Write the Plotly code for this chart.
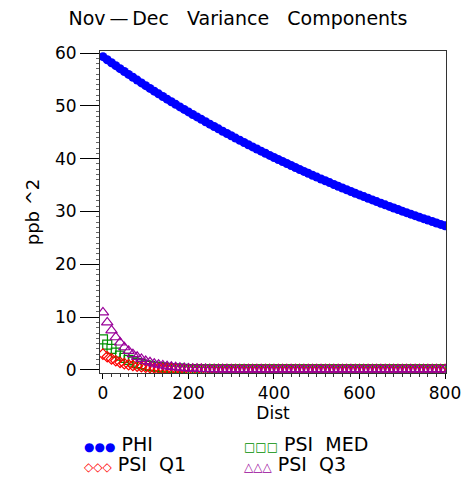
import plotly.graph_objects as go

dist = list(range(0, 801, 10))

phi = [59.30, 58.73, 58.16, 57.60, 57.04, 56.49, 55.95, 55.41, 54.87, 54.34,
       53.82, 53.30, 52.78, 52.27, 51.77, 51.27, 50.78, 50.29, 49.80, 49.32,
       48.85, 48.37, 47.91, 47.44, 46.99, 46.53, 46.08, 45.64, 45.20, 44.76,
       44.33, 43.90, 43.48, 43.06, 42.64, 42.23, 41.82, 41.42, 41.02, 40.62,
       40.23, 39.84, 39.46, 39.08, 38.70, 38.33, 37.96, 37.59, 37.23, 36.87,
       36.51, 36.16, 35.81, 35.47, 35.12, 34.78, 34.45, 34.12, 33.79, 33.46,
       33.14, 32.82, 32.50, 32.19, 31.88, 31.57, 31.26, 30.96, 30.66, 30.37,
       30.07, 29.78, 29.50, 29.21, 28.93, 28.65, 28.37, 28.10, 27.83, 27.56,
       27.30]

psi_med = [5.8, 4.8, 4.0, 3.3, 2.7, 2.3, 1.9, 1.6, 1.3, 1.1,
           0.9, 0.76, 0.64, 0.54, 0.46, 0.39, 0.33, 0.28, 0.24, 0.21,
           0.18, 0.16, 0.15, 0.14, 0.13, 0.12, 0.12, 0.11, 0.11, 0.11,
           0.1, 0.1, 0.1, 0.1, 0.1, 0.1, 0.1, 0.1, 0.1, 0.1,
           0.1, 0.1, 0.1, 0.1, 0.1, 0.1, 0.1, 0.1, 0.1, 0.1,
           0.1, 0.1, 0.1, 0.1, 0.1, 0.1, 0.1, 0.1, 0.1, 0.1,
           0.1, 0.1, 0.1, 0.1, 0.1, 0.1, 0.1, 0.1, 0.1, 0.1,
           0.1, 0.1, 0.1, 0.1, 0.1, 0.1, 0.1, 0.1, 0.1, 0.1,
           0.1]

psi_q1 = [3.0, 2.5, 2.1, 1.75, 1.45, 1.2, 1.0, 0.85, 0.72, 0.61,
          0.52, 0.44, 0.38, 0.32, 0.28, 0.24, 0.21, 0.18, 0.16, 0.14,
          0.13, 0.12, 0.11, 0.11, 0.1, 0.1, 0.1, 0.1, 0.1, 0.1,
          0.1, 0.1, 0.1, 0.1, 0.1, 0.1, 0.1, 0.1, 0.1, 0.1,
          0.1, 0.1, 0.1, 0.1, 0.1, 0.1, 0.1, 0.1, 0.1, 0.1,
          0.1, 0.1, 0.1, 0.1, 0.1, 0.1, 0.1, 0.1, 0.1, 0.1,
          0.1, 0.1, 0.1, 0.1, 0.1, 0.1, 0.1, 0.1, 0.1, 0.1,
          0.1, 0.1, 0.1, 0.1, 0.1, 0.1, 0.1, 0.1, 0.1, 0.1,
          0.1]

psi_q3 = [10.9, 9.0, 7.5, 6.2, 5.2, 4.3, 3.6, 3.0, 2.5, 2.1,
          1.7, 1.45, 1.2, 1.0, 0.85, 0.7, 0.6, 0.5, 0.42, 0.36,
          0.3, 0.26, 0.22, 0.19, 0.17, 0.15, 0.14, 0.13, 0.12, 0.12,
          0.11, 0.1, 0.1, 0.1, 0.1, 0.1, 0.1, 0.1, 0.1, 0.1,
          0.1, 0.1, 0.1, 0.1, 0.1, 0.1, 0.1, 0.1, 0.1, 0.1,
          0.1, 0.1, 0.1, 0.1, 0.1, 0.1, 0.1, 0.1, 0.1, 0.1,
          0.1, 0.1, 0.1, 0.1, 0.1, 0.1, 0.1, 0.1, 0.1, 0.1,
          0.1, 0.1, 0.1, 0.1, 0.1, 0.1, 0.1, 0.1, 0.1, 0.1,
          0.1]

x_ticks = [0, 200, 400, 600, 800]
y_ticks = [0, 10, 20, 30, 40, 50, 60]

BLUE = "#0000FF"
RED = "#FF0000"
GREEN = "#009000"
PURPLE = "#990099"
FONT = "DejaVu Sans, Verdana, sans-serif"

# page has an 8px body margin: figure is offset by 8px in x and y
W, H = 465, 472
ML, MR, MT, MB = 92, 20, 43, 107
PW = W - ML - MR
PH = H - MT - MB

fig = go.Figure()
fig.add_trace(go.Scatter(x=dist, y=phi, mode="markers", name="PHI",
                         marker=dict(symbol="circle", size=9, color=BLUE)))
fig.add_trace(go.Scatter(x=dist, y=psi_med, mode="markers", name="PSI  MED",
                         marker=dict(symbol="square-open", size=9, color=GREEN,
                                     line=dict(width=1.2, color=GREEN))))
fig.add_trace(go.Scatter(x=dist, y=psi_q1, mode="markers", name="PSI  Q1",
                         marker=dict(symbol="diamond-open", size=8, color=RED,
                                     line=dict(width=1.2, color=RED))))
fig.add_trace(go.Scatter(x=dist, y=psi_q3, mode="markers", name="PSI  Q3",
                         marker=dict(symbol="triangle-up-open", size=10, color=PURPLE,
                                     line=dict(width=1.2, color=PURPLE))))

fig.update_layout(
    width=W, height=H,
    margin=dict(l=ML, r=MR, t=MT, b=MB),
    paper_bgcolor="white", plot_bgcolor="white",
    showlegend=False,
    font=dict(family=FONT, size=17, color="black"),
    title=dict(text="Nov\u2009\u2014\u2009Dec\u00a0\u00a0 Variance\u00a0\u00a0 Components",
               x=(238 - 8) / W, xref="container", xanchor="center",
               y=1 - 10 / H, yref="container", yanchor="middle",
               font=dict(family=FONT, size=19, color="black")),
)

fig.update_xaxes(
    range=[-6.9, 802.3], tickvals=x_ticks, ticks="outside", ticklen=5,
    tickcolor="black", showgrid=False, zeroline=False,
    showline=True, linecolor="#333", linewidth=1, mirror=True,
    minor=dict(dtick=20, ticks="outside", ticklen=3, tickcolor="#333"),
    title=dict(text="Dist", standoff=2, font=dict(family=FONT, size=17)),
    tickfont=dict(family=FONT, size=17),
)
fig.update_yaxes(
    range=[-0.57, 60.38], tickvals=y_ticks, ticks="outside", ticklen=19,
    tickcolor="black", showgrid=False, zeroline=False,
    showline=True, linecolor="#333", linewidth=1, mirror=True,
    minor=dict(dtick=1, ticks="outside", ticklen=3, tickcolor="#666"),
    title=dict(text="ppb\u00a0^2", standoff=10, font=dict(family=FONT, size=18)),
    tickfont=dict(family=FONT, size=17),
)

# Legend drawn as text annotations (three symbol glyphs + label); page pixel positions
legend_items = [
    ("\u25cf\u25cf\u25cf", BLUE, "PHI", 82, 444, 12),
    ("\u25a1\u25a1\u25a1", GREEN, "PSI\u00a0 MED", 245, 444, 12),
    ("\u25c7\u25c7\u25c7", RED, "PSI\u00a0 Q1", 82, 464, 12),
    ("\u25b3\u25b3\u25b3", PURPLE, "PSI\u00a0 Q3", 245, 464, 12),
]
plot_left = 8 + ML
plot_bottom = 8 + MT + PH
for sym, col, label, px, py, fs in legend_items:
    fig.add_annotation(x=(px - plot_left) / PW, y=(plot_bottom - py) / PH,
                       xref="paper", yref="paper",
                       text=f'<span style="color:{col};font-size:{fs}px">{sym}</span>\u00a0{label}',
                       showarrow=False, xanchor="left", yanchor="middle",
                       font=dict(family=FONT, size=19, color="black"))

fig.write_html("out.html")
